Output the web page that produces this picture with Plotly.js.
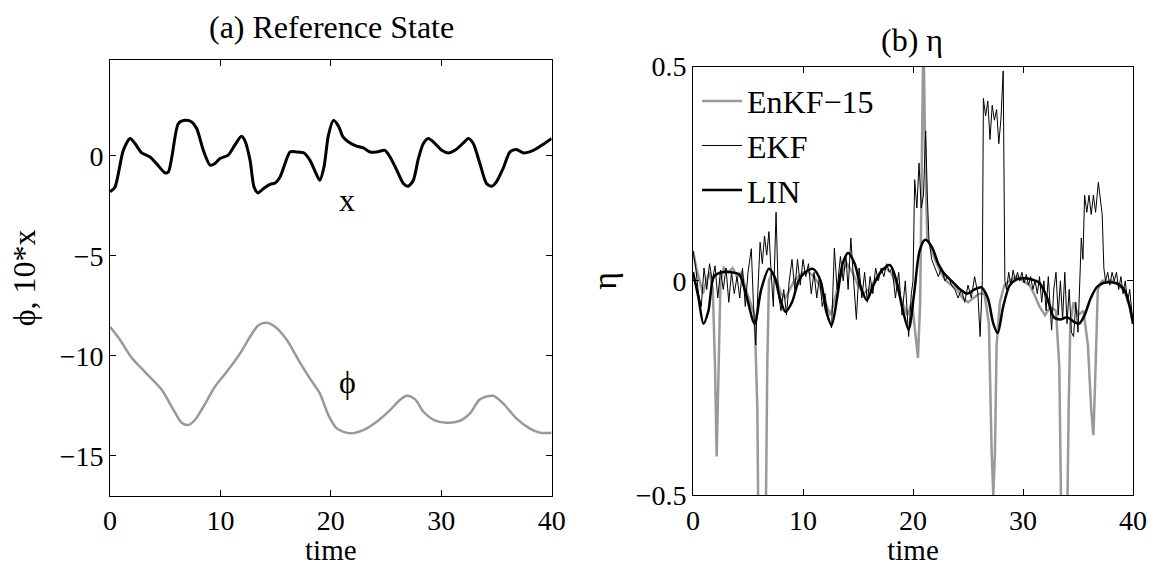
<!DOCTYPE html>
<html>
<head>
<meta charset="utf-8">
<script src="https://cdn.plot.ly/plotly-3.0.1.min.js"></script>
<style>html,body{margin:0;padding:0;background:#fff;}#chart{width:1156px;height:566px;}</style>
</head>
<body>
<div id="chart"></div>
<script>
// ---- Panel (a): reference state ----
const xTime = [0,0.45,1.2,1.81,2.26,2.87,3.62,4.2,4.98,5.28,5.6,6.19,6.79,7.4,7.85,8.45,9.06,9.5,9.96,10.7,11.3,11.9,12.2,12.68,13.04,13.4,13.9,14.5,14.95,15.4,15.85,16.3,16.9,17.57,18.1,18.66,19.0,19.38,19.78,20.23,20.7,21.1,21.6,22.34,22.95,23.55,24.15,24.9,25.36,25.97,26.57,27.0,27.47,27.93,28.38,28.83,29.44,30.04,30.65,31.25,32.0,32.46,32.9,33.5,34.1,34.57,35.0,35.6,36.23,36.8,37.44,38.0,38.65,39.25,40.0];
const xState10 = [-1.8,-1.55,0.28,0.87,0.62,0.15,-0.05,-0.38,-0.85,-0.8,-0.05,1.62,1.78,1.7,1.37,0.28,-0.46,-0.38,-0.13,0.04,0.54,0.98,0.78,-0.21,-1.55,-1.85,-1.63,-1.42,-1.35,-1.05,-0.38,0.2,0.2,0.15,-0.21,-0.88,-1.22,-0.55,1.04,1.78,1.48,0.95,0.7,0.49,0.4,0.2,0.2,0.28,-0.05,-0.71,-1.38,-1.52,-1.22,-0.13,0.62,0.87,0.62,0.28,0.15,0.28,0.65,0.87,0.62,-0.38,-1.38,-1.52,-1.3,-0.63,0.2,0.32,0.15,0.2,0.37,0.59,0.87];
const phiTime = [0,0.9,1.96,3.32,4.68,5.74,6.49,7.1,7.7,8.45,9.5,10.57,11.78,12.68,13.44,14.2,14.95,16.0,17.06,18.1,19.0,19.78,20.53,21.74,22.95,24.15,25.36,26.27,26.87,27.63,28.38,29.3,30.5,31.7,32.6,33.5,34.7,35.6,36.8,38.0,38.95,40];
const phiState = [-8.55,-9.2,-10.1,-10.9,-11.7,-12.7,-13.35,-13.46,-13.2,-12.55,-11.55,-10.8,-9.88,-9.05,-8.47,-8.35,-8.55,-9.2,-10.2,-11.13,-11.88,-12.97,-13.63,-13.88,-13.72,-13.3,-12.72,-12.2,-12.0,-12.18,-12.8,-13.2,-13.35,-13.25,-12.88,-12.18,-12.0,-12.38,-13.13,-13.63,-13.85,-13.85];

// ---- Panel (b): eta estimates ----
const linTime = [0,0.5,0.95,1.4,1.9,2.6,3.5,4.2,4.8,5.6,6.2,6.9,7.4,7.9,8.4,9.0,9.6,10.2,10.9,11.6,12.1,12.6,13.1,13.6,14.1,14.7,15.2,15.8,16.4,17.2,17.9,18.5,19.0,19.6,20.1,20.6,21.1,21.7,22.3,22.8,23.5,24.3,24.9,25.6,26.2,26.8,27.3,27.7,28.2,28.8,29.4,30.0,30.8,31.5,32.2,32.8,33.4,34.0,34.6,35.1,35.6,36.1,36.7,37.3,38.2,38.8,39.3,39.7,40];
const linEta = [0.02,-0.04,-0.1,-0.07,0.01,0.02,0.02,0.015,-0.03,-0.1,-0.02,0.028,0.01,-0.04,-0.072,-0.05,0.0,0.02,0.028,0.0,-0.07,-0.103,-0.04,0.04,0.065,0.04,-0.01,-0.045,-0.01,0.025,0.037,0.0,-0.06,-0.114,-0.03,0.07,0.096,0.08,0.04,0.018,0.0,-0.02,-0.03,-0.02,-0.015,-0.04,-0.1,-0.122,-0.06,-0.01,0.003,0.006,0.003,-0.005,-0.04,-0.085,-0.09,-0.085,-0.095,-0.1,-0.08,-0.044,-0.015,-0.005,-0.004,-0.01,-0.025,-0.06,-0.1];

const ekfTime = [0.0,0.25,0.5,0.75,1.0,1.25,1.5,1.75,2.0,2.25,2.5,2.75,3.0,3.25,3.5,3.75,4.0,4.25,4.5,4.75,5.0,5.3,5.5,5.7,5.9,6.1,6.3,6.5,6.7,6.9,7.1,7.3,7.55,7.75,8.0,8.25,8.5,8.75,9.0,9.25,9.5,9.75,10.0,10.25,10.5,10.75,11.0,11.25,11.5,11.75,12.0,12.3,12.6,12.85,13.1,13.4,13.65,13.9,14.1,14.35,14.6,14.85,15.1,15.35,15.6,15.85,16.1,16.35,16.6,16.85,17.1,17.35,17.6,17.85,18.1,18.4,18.7,19.0,19.3,19.6,19.85,20.0,20.15,20.35,20.55,20.75,20.95,21.15,21.3,21.45,21.7,22.0,22.3,22.6,22.9,23.2,23.5,23.8,24.1,24.4,24.7,25.0,25.3,25.6,25.9,26.1,26.3,26.4,26.6,26.8,27.0,27.2,27.4,27.6,27.8,28.0,28.2,28.35,28.5,28.7,28.9,29.1,29.3,29.5,29.7,29.9,30.1,30.3,30.5,30.7,30.9,31.1,31.3,31.5,31.7,31.9,32.1,32.3,32.6,32.8,33.0,33.2,33.4,33.6,33.8,34.0,34.2,34.4,34.6,34.8,35.0,35.3,35.45,35.6,35.8,36.0,36.2,36.4,36.6,36.85,37.05,37.2,37.35,37.5,37.7,37.9,38.1,38.3,38.5,38.7,38.9,39.1,39.3,39.5,39.7,39.9,40.0];
const ekfEta = [0.07,0.03,-0.03,-0.06,0.03,-0.02,0.04,0.0,0.035,-0.04,0.025,-0.02,0.03,-0.05,0.02,-0.03,0.01,-0.04,0.03,-0.06,0.02,0.075,-0.06,-0.15,-0.02,0.09,0.04,0.105,0.06,0.115,0.02,-0.06,0.16,-0.03,-0.07,-0.02,-0.08,0.0,0.05,-0.02,0.05,-0.01,0.05,0.01,0.04,-0.03,0.02,-0.04,0.01,-0.06,-0.03,-0.09,-0.11,0.076,-0.02,0.057,0.0,0.06,-0.02,0.1,0.0,-0.09,0.03,-0.04,0.02,-0.05,0.01,-0.03,0.03,0.0,0.03,0.01,0.04,0.02,0.03,-0.04,0.02,-0.08,0.0,-0.13,-0.03,0.0,0.236,0.17,0.275,0.17,0.2,0.35,0.2,0.096,0.05,0.03,0.01,0.03,0.0,0.01,-0.01,-0.02,-0.04,-0.02,-0.05,-0.01,-0.04,0.01,-0.03,-0.13,0.0,0.426,0.385,0.42,0.33,0.41,0.375,0.4,0.32,0.38,0.49,0.0,-0.02,0.02,-0.01,0.025,0.0,0.02,0.0,0.02,-0.005,0.015,-0.01,0.01,-0.02,0.0,-0.03,0.01,-0.05,0.0,-0.07,0.01,-0.115,-0.02,0.02,-0.08,0.0,-0.09,0.02,-0.1,-0.02,-0.12,-0.13,-0.05,-0.12,0.1,0.05,0.2,0.16,0.2,0.155,0.2,0.16,0.23,0.19,0.155,0.03,0.0,0.02,-0.01,0.02,0.0,0.02,-0.02,0.01,-0.03,0.0,-0.05,-0.02,-0.08,-0.1];

const enkfTime = [0.0,0.3,0.6,0.9,1.2,1.5,1.8,2.0,2.15,2.35,2.5,2.8,3.2,3.6,4.0,4.4,4.8,5.2,5.6,5.85,5.95,6.6,6.75,6.9,7.2,7.6,8.0,8.4,8.8,9.2,9.6,10.0,10.5,11.0,11.5,12.0,12.5,13.0,13.5,14.0,14.5,15.0,15.5,16.0,16.5,17.0,17.5,18.0,18.5,19.0,19.5,19.9,20.2,20.45,20.65,20.8,20.95,21.1,21.3,21.6,22.0,22.5,23.0,23.5,24.0,24.5,25.0,25.5,26.0,26.5,26.9,27.15,27.3,27.45,27.6,27.9,28.3,28.8,29.4,30.0,30.6,31.0,31.5,32.0,32.5,33.0,33.3,33.5,34.0,34.15,34.3,34.6,35.0,35.5,35.9,36.2,36.4,36.6,36.8,37.2,37.7,38.2,38.8,39.3,39.7,40.0];
const enkfEta = [0.07,0.03,0.0,-0.03,0.0,0.02,-0.02,-0.2,-0.41,-0.2,0.0,0.03,0.02,0.03,0.01,0.02,-0.02,-0.05,-0.08,-0.3,-0.6,-0.6,-0.2,0.0,0.02,0.0,-0.03,-0.04,-0.02,0.0,0.01,0.02,0.02,0.01,-0.01,-0.05,-0.08,-0.03,0.02,0.04,0.02,-0.01,-0.03,-0.02,0.0,0.02,0.03,0.02,-0.01,-0.05,-0.08,-0.05,-0.12,-0.18,-0.05,0.3,0.6,0.3,0.1,0.08,0.05,0.02,0.0,-0.01,-0.02,-0.04,-0.05,-0.04,-0.03,-0.03,-0.1,-0.4,-0.5,-0.4,-0.15,-0.05,-0.01,0.0,0.01,0.0,-0.01,-0.03,-0.06,-0.08,-0.06,-0.07,-0.2,-0.6,-0.6,-0.3,-0.1,-0.05,-0.08,-0.07,-0.15,-0.3,-0.36,-0.2,-0.02,0.0,0.0,0.0,-0.01,-0.03,-0.06,-0.1];

const xTicks = [0,10,20,30,40];
const leftYTicks = [0,-5,-10,-15];
const rightYTicks = [-0.5,0,0.5];

const FONT = '"Liberation Serif", "Times New Roman", Times, serif';
const GRAY = '#999999';

const traces = [
  {x: xTime, y: xState10, xaxis:'x', yaxis:'y', mode:'lines', line:{color:'#000', width:3, shape:'spline', smoothing:0.7}, showlegend:false},
  {x: phiTime, y: phiState, xaxis:'x', yaxis:'y', mode:'lines', line:{color:GRAY, width:2.5, shape:'spline', smoothing:0.8}, showlegend:false},
  {x: enkfTime, y: enkfEta, xaxis:'x2', yaxis:'y2', mode:'lines', name:'EnKF\u221215', line:{color:GRAY, width:2.5}},
  {x: ekfTime, y: ekfEta, xaxis:'x2', yaxis:'y2', mode:'lines', name:'EKF', line:{color:'#000', width:1}},
  {x: linTime, y: linEta, xaxis:'x2', yaxis:'y2', mode:'lines', name:'LIN', line:{color:'#000', width:2.5, shape:'spline', smoothing:0.8}}
];

const axCommon = {showline:true, linecolor:'#000', linewidth:1, mirror:'ticks', ticks:'inside', ticklen:6, tickcolor:'#000', showgrid:false, zeroline:false, tickfont:{family:FONT, size:28, color:'#000'}};

const layout = {
  width:1156, height:566,
  margin:{l:0, r:0, t:0, b:0},
  paper_bgcolor:'#fff', plot_bgcolor:'#fff',
  font:{family:FONT, color:'#000'},
  xaxis: Object.assign({}, axCommon, {domain:[0.0952,0.4772], range:[0,40], tickvals:xTicks, anchor:'y', title:{text:'time', font:{family:FONT, size:29}, standoff:7}}),
  yaxis: Object.assign({}, axCommon, {domain:[0.1242,0.894], range:[-17,4.8], tickvals:leftYTicks, anchor:'x', title:{text:'\u03d5, 10*x', font:{family:FONT, size:32}, standoff:14}}),
  xaxis2: Object.assign({}, axCommon, {domain:[0.5995,0.9801], range:[0,40], tickvals:xTicks, anchor:'y2', title:{text:'time', font:{family:FONT, size:29}, standoff:7}}),
  yaxis2: Object.assign({}, axCommon, {domain:[0.1254,0.8822], range:[-0.5,0.5], tickvals:rightYTicks, anchor:'x2', title:{text:'\u03b7', font:{family:FONT, size:34}, standoff:8}}),
  legend:{x:0.603, y:0.87, xanchor:'left', yanchor:'top', bgcolor:'rgba(0,0,0,0)', borderwidth:0, font:{family:FONT, size:32, color:'#000'}, tracegroupgap:0, itemwidth:40},
  annotations:[
    {xref:'paper', yref:'paper', x:331/1156, y:1-27/566, text:'(a) Reference State', showarrow:false, font:{family:FONT, size:32}, xanchor:'center', yanchor:'middle'},
    {xref:'paper', yref:'paper', x:912/1156, y:1-40/566, text:'(b) \u03b7', showarrow:false, font:{family:FONT, size:32}, xanchor:'center', yanchor:'middle'},
    {xref:'x', yref:'y', x:21.5, y:-2.2, text:'x', showarrow:false, font:{family:FONT, size:32}},
    {xref:'x', yref:'y', x:21.5, y:-11.3, text:'\u03d5', showarrow:false, font:{family:FONT, size:32}}
  ]
};

Plotly.newPlot('chart', traces, layout, {displayModeBar:false, staticPlot:true});
</script>
</body>
</html>
